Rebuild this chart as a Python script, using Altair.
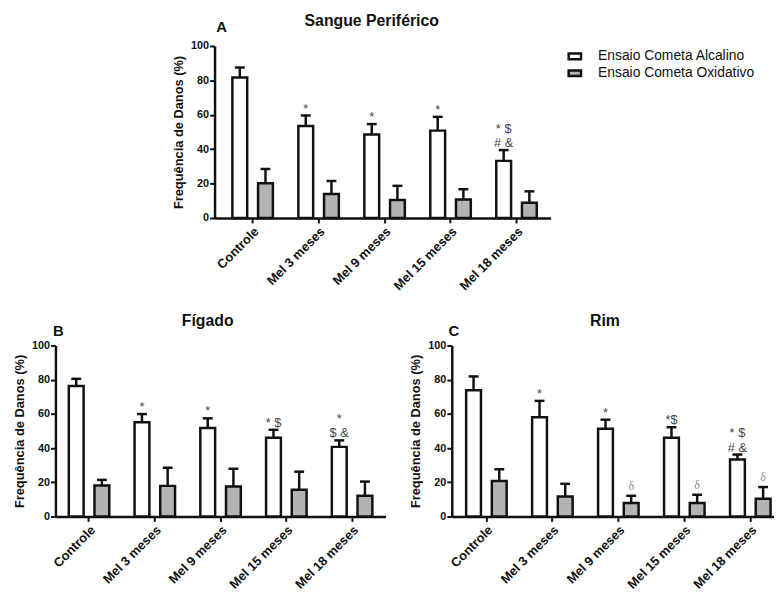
import altair as alt
import pandas as pd

FONT = "Liberation Sans"
SERIF = "Liberation Serif"
INK = "#111111"

groups = ["Controle", "Mel 3 meses", "Mel 9 meses", "Mel 15 meses", "Mel 18 meses"]
series = ["Ensaio Cometa Alcalino", "Ensaio Cometa Oxidativo"]
ticks_y = [0, 20, 40, 60, 80, 100]

# Panel A - Sangue Periférico
a_alc = [81.7, 53.5, 48.5, 50.8, 33.2]
a_alc_err = [5.8, 6.1, 6.1, 8.0, 6.3]
a_oxi = [20.2, 14.0, 10.4, 10.7, 8.8]
a_oxi_err = [8.3, 7.5, 8.3, 6.0, 6.7]
a_lo = [(1, 0, "*"), (2, 0, "*"), (3, 0, "*"), (4, 0, "# &")]
a_hi = [(4, 0, "* $")]
a_delta = []

# Panel B - Fígado
b_alc = [76.3, 55.1, 51.8, 46.0, 40.7]
b_alc_err = [4.2, 4.8, 5.6, 4.7, 3.8]
b_oxi = [18.1, 17.9, 17.5, 15.6, 12.1]
b_oxi_err = [3.3, 10.6, 10.4, 10.6, 8.3]
b_lo = [(1, 0, "*"), (2, 0, "*"), (3, 0, "* $"), (4, 0, "$ &")]
b_hi = [(4, 0, "*")]
b_delta = []

# Panel C - Rim
c_alc = [73.8, 58.0, 51.3, 46.0, 33.3]
c_alc_err = [8.1, 9.6, 5.3, 6.2, 2.9]
c_oxi = [20.8, 11.7, 7.9, 7.9, 10.4]
c_oxi_err = [6.8, 7.4, 4.2, 4.8, 6.8]
c_lo = [(1, 0, "*"), (2, 0, "*"), (3, 0, "*$"), (4, 0, "# &")]
c_hi = [(4, 0, "* $")]
c_delta = [(2, 1, "δ"), (3, 1, "δ"), (4, 1, "δ")]


def make_panel(alc, alc_err, oxi, oxi_err, lo, hi, delta, title, letter,
               width, height, pad_outer, align, title_x, letter_x, letter_y, legend):
    df = pd.DataFrame({
        "grupo": groups + groups,
        "ensaio": [series[0]] * 5 + [series[1]] * 5,
        "valor": alc + oxi,
        "erro": alc_err + oxi_err,
    })
    df["topo"] = df["valor"] + df["erro"]

    def notes(items):
        rows = []
        for g, s, t in items:
            top = df[(df.grupo == groups[g]) & (df.ensaio == series[s])]["topo"].iloc[0]
            rows.append({"grupo": groups[g], "ensaio": series[s], "topo": top, "texto": t})
        return pd.DataFrame(rows)

    xs = alt.Scale(domain=groups, paddingInner=0.386, paddingOuter=pad_outer, align=align)
    xaxis = alt.Axis(title=None, labelAngle=-45, labelPadding=2)
    x = alt.X("grupo:N", sort=groups, scale=xs, axis=xaxis)
    xo = alt.XOffset("ensaio:N", sort=series,
                     scale=alt.Scale(domain=series, paddingInner=0.423, paddingOuter=0))
    ys = alt.Scale(domain=[0, 100], nice=False, zero=True)
    yaxis = alt.Axis(title="Frequência de Danos (%)", values=ticks_y, grid=False,
                     labelOverlap=False, tickCount=6)
    fill = alt.Fill("ensaio:N", sort=series,
                    scale=alt.Scale(domain=series, range=["#ffffff", "#b3b3b3"]),
                    legend=legend)

    base = alt.Chart(df)
    bars = base.mark_bar(stroke=INK, strokeWidth=2.5).encode(
        x=x, xOffset=xo, y=alt.Y("valor:Q", scale=ys, axis=yaxis), fill=fill)
    rules = base.mark_rule(color=INK, strokeWidth=2.5).encode(
        x=x, xOffset=xo, y=alt.Y("valor:Q", scale=ys, axis=yaxis), y2="topo:Q")
    caps = base.mark_tick(color=INK, size=10, thickness=2.5, opacity=1).encode(
        x=x, xOffset=xo, y=alt.Y("topo:Q", scale=ys, axis=yaxis))
    layers = [bars, rules, caps]

    lo_t = alt.Chart(notes(lo)).mark_text(
        font=FONT, fontSize=13, color="#444444", baseline="alphabetic", dy=-3
    ).encode(x=x, xOffset=xo, y=alt.Y("topo:Q", scale=ys, axis=yaxis), text="texto:N")
    layers.append(lo_t)
    if hi:
        hi_t = alt.Chart(notes(hi)).mark_text(
            font=FONT, fontSize=13, color="#444444", baseline="alphabetic", dy=-17.5
        ).encode(x=x, xOffset=xo, y=alt.Y("topo:Q", scale=ys, axis=yaxis), text="texto:N")
        layers.append(hi_t)
    if delta:
        d_t = alt.Chart(notes(delta)).mark_text(
            font=SERIF, fontSize=12, color="#888888", baseline="alphabetic", dy=-6
        ).encode(x=x, xOffset=xo, y=alt.Y("topo:Q", scale=ys, axis=yaxis), text="texto:N")
        layers.append(d_t)

    ttl = alt.Chart(pd.DataFrame({"t": [title]})).mark_text(
        font=FONT, fontSize=16, fontWeight="bold", color=INK, align="center", baseline="middle"
    ).encode(text="t:N", x=alt.value(title_x), y=alt.value(-25))
    let = alt.Chart(pd.DataFrame({"t": [letter]})).mark_text(
        font=FONT, fontSize=15, fontWeight="bold", color=INK, align="center", baseline="middle"
    ).encode(text="t:N", x=alt.value(letter_x), y=alt.value(letter_y))
    layers += [ttl, let]

    return alt.layer(*layers).properties(width=width, height=height)


legend_a = alt.Legend(
    title=None, orient="none", legendX=357, legendY=3,
    symbolType="M-1,-0.45H1V0.45H-1Z", symbolSize=156,
    symbolStrokeColor=INK, symbolStrokeWidth=2.5, symbolOpacity=1,
    labelFont=FONT, labelFontSize=14, labelColor=INK, labelOffset=16, rowPadding=0,
)

A = make_panel(a_alc, a_alc_err, a_oxi, a_oxi_err, a_lo, a_hi, a_delta,
               "Sangue Periférico", "A", 340, 174, 0.24, 0.5625, 159, 7, -19, legend_a)
B = make_panel(b_alc, b_alc_err, b_oxi, b_oxi_err, b_lo, b_hi, b_delta,
               "Fígado", "B", 334, 173, 0.203, 0.5, 154, 3, -15, None)
C = make_panel(c_alc, c_alc_err, c_oxi, c_oxi_err, c_lo, c_hi, c_delta,
               "Rim", "C", 326, 173, 0.135, 0.806, 155, 2, -15, None)

spacer = alt.Chart(pd.DataFrame({"v": [0]})).mark_point(opacity=0).properties(width=1, height=1)

top = alt.hconcat(spacer, A, spacing=114).resolve_scale(fill="independent")
bottom = alt.hconcat(B, C, spacing=24).resolve_scale(fill="independent")

chart = (
    alt.vconcat(top, bottom, spacing=20)
    .resolve_scale(fill="independent")
    .properties(padding={"left": 5, "top": 2, "right": 0, "bottom": 0})
    .configure_view(stroke=None)
    .configure_axis(
        domainColor=INK, domainWidth=2.5, tickColor=INK, tickWidth=2, tickSize=5,
        labelFont=FONT, labelFontWeight="bold", labelColor=INK,
        titleFont=FONT, titleFontWeight="bold", titleColor=INK, grid=False,
    )
    .configure_axisX(labelFontSize=13)
    .configure_axisY(labelFontSize=11, labelPadding=1, titleFontSize=13, titlePadding=5)
)

chart.save("out.html", embed_options={"renderer": "svg", "actions": False})
